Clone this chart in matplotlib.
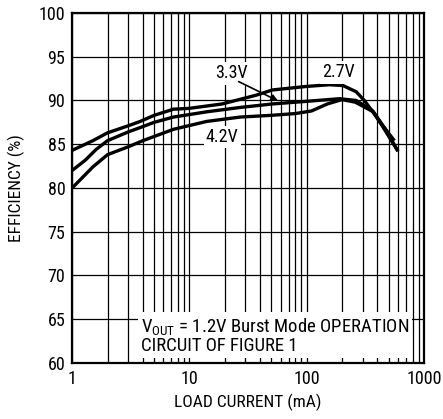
import matplotlib
matplotlib.use("Agg")
import matplotlib.pyplot as plt

plt.rcParams['font.family'] = ['Roboto Condensed', 'Liberation Sans', 'DejaVu Sans']
plt.rcParams['mathtext.fontset'] = 'custom'
plt.rcParams['mathtext.rm'] = 'Roboto Condensed'

# Load current (mA) and efficiency (%) per input voltage
x_27 = [1, 1.5, 2, 3, 3.8, 5, 7.3, 10, 19, 37, 51, 99, 157, 204, 264, 310, 366, 446, 560]
y_27 = [84.3, 85.4, 86.3, 87.1, 87.6, 88.3, 89.0, 89.1, 89.6, 90.6, 91.2, 91.6, 91.8, 91.7, 91.0, 90.0, 88.7, 87.1, 85.4]

x_33 = [1, 1.3, 1.6, 2, 3, 3.8, 5, 7.3, 14, 27, 51, 100, 190, 264, 366, 470, 600]
y_33 = [82.0, 83.2, 84.4, 85.4, 86.4, 86.9, 87.5, 88.1, 88.7, 89.2, 89.6, 89.9, 90.2, 90.0, 88.8, 86.7, 84.2]

x_42 = [1, 1.5, 2, 3, 4, 7.3, 14, 27, 50, 80, 110, 150, 200, 260, 370, 450, 600]
y_42 = [80.0, 82.4, 83.8, 84.7, 85.4, 86.7, 87.6, 88.1, 88.3, 88.5, 88.8, 89.6, 90.1, 89.8, 88.7, 86.9, 84.2]

x_ticks = [1, 10, 100, 1000]
x_ticklabels = ["1", "10", "100", "1000"]
y_ticks = [60, 65, 70, 75, 80, 85, 90, 95, 100]

FS = 12.5

fig = plt.figure(figsize=(4.43, 4.19), dpi=100)
ax = fig.add_axes([0.163, 0.134, 0.794, 0.835])

ax.set_xscale('log')
ax.set_xlim(1, 1000)
ax.set_ylim(60, 100)

for xs, ys in [(x_27, y_27), (x_33, y_33), (x_42, y_42)]:
    ax.plot(xs, ys, color='black', lw=2.4, solid_joinstyle='round', solid_capstyle='butt', zorder=4)

ax.set_xticks(x_ticks)
ax.set_xticklabels(x_ticklabels)
ax.set_yticks(y_ticks)
ax.tick_params(axis='both', which='both', length=0, labelsize=FS + 0.5, pad=5)
ax.grid(True, which='major', color='black', lw=0.9)
ax.grid(True, which='minor', axis='x', color='black', lw=0.9)
ax.set_axisbelow(True)
for s in ax.spines.values():
    s.set_linewidth(1.6)

ax.set_xlabel("LOAD CURRENT (mA)", fontsize=FS, labelpad=4)
ax.set_ylabel("EFFICIENCY (%)", fontsize=FS, labelpad=10)

bb = dict(facecolor='white', edgecolor='none', pad=1.5)
ax.text(23, 93.1, "3.3V", fontsize=FS + 0.5, ha='center', va='center', bbox=bb, zorder=5)
ax.text(186, 93.2, "2.7V", fontsize=FS + 0.5, ha='center', va='center', bbox=bb, zorder=5)
ax.text(19, 85.8, "4.2V", fontsize=FS + 0.5, ha='center', va='center', bbox=bb, zorder=5)
ax.annotate("", xy=(60, 89.8), xytext=(25, 92.3),
            arrowprops=dict(arrowstyle='-|>', color='black', lw=1.2, mutation_scale=10), zorder=6)

ax.text(3.85, 60.9, "V$_{\\mathregular{OUT}}$ = 1.2V Burst Mode OPERATION\nCIRCUIT OF FIGURE 1",
        fontsize=13.5, ha='left', va='bottom', linespacing=0.95,
        bbox=dict(facecolor='white', edgecolor='none', pad=2.0), zorder=5)

fig.savefig("out.png", dpi=100)
